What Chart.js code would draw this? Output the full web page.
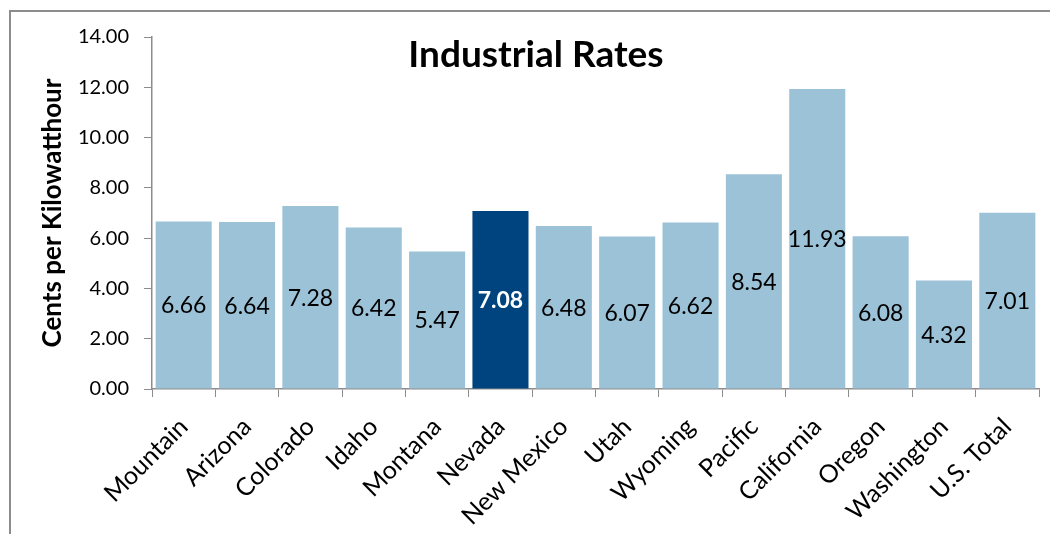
<!DOCTYPE html>
<html>
<head>
<meta charset="utf-8">
<script src="https://cdn.jsdelivr.net/npm/chart.js@4.4.1/dist/chart.umd.min.js"></script>
<style>
html,body{margin:0;padding:0;background:#fff;}
#wrap{position:relative;width:1050px;height:534px;}
</style>
</head>
<body>
<div id="wrap"><canvas id="c"></canvas></div>
<script>
const categories = ["Mountain","Arizona","Colorado","Idaho","Montana","Nevada","New Mexico","Utah","Wyoming","Pacific","California","Oregon","Washington","U.S. Total"];
const rates = [6.66, 6.64, 7.28, 6.42, 5.47, 7.08, 6.48, 6.07, 6.62, 8.54, 11.93, 6.08, 4.32, 7.01];
const highlight = "Nevada";
const titleText = "Industrial Rates";
const yAxisTitle = "Cents per Kilowatthour";

const FONT = "Lato";
const lightColor = "#9cc2d8";
const darkColor = "#00447f";
const axisColor = "#8c8c8c";

const barColors = categories.map(c => c === highlight ? darkColor : lightColor);

const frameAndLabels = {
  id: "frameAndLabels",
  beforeDraw(chart) {
    const ctx = chart.ctx;
    ctx.save();
    ctx.strokeStyle = axisColor;
    ctx.lineWidth = 2;
    ctx.beginPath();
    ctx.moveTo(10, chart.height + 2);
    ctx.lineTo(10, 11);
    ctx.lineTo(chart.width + 2, 11);
    ctx.stroke();
    ctx.restore();
  },
  afterDatasetsDraw(chart) {
    const ctx = chart.ctx;
    const meta = chart.getDatasetMeta(0);
    ctx.save();
    ctx.textAlign = "center";
    ctx.textBaseline = "middle";
    meta.data.forEach((bar, i) => {
      const p = bar.getProps(["x", "y", "base"], true);
      const isHi = categories[i] === highlight;
      ctx.fillStyle = isHi ? "#ffffff" : "#000000";
      ctx.font = (isHi ? "bold " : "") + "23px " + FONT;
      ctx.fillText(rates[i].toFixed(2), p.x, (p.y + p.base) / 2 + 1);
    });
    // title
    ctx.fillStyle = "#000";
    ctx.font = "bold 37px " + FONT;
    ctx.textBaseline = "alphabetic";
    ctx.fillText(titleText, 536, 67);
    ctx.restore();
  }
};

new Chart(document.getElementById("c"), {
  type: "bar",
  data: {
    labels: categories,
    datasets: [{
      data: rates,
      backgroundColor: barColors,
      borderWidth: 0,
      categoryPercentage: 1,
      barPercentage: 0.885
    }]
  },
  options: {
    responsive: true,
    maintainAspectRatio: false,
    animation: false,
    devicePixelRatio: 1,
    layout: { padding: { left: 0, top: 37, right: 11, bottom: 0 } },
    plugins: { legend: { display: false }, tooltip: { enabled: false }, title: { display: false } },
    scales: {
      x: {
        grid: { drawOnChartArea: false, drawTicks: true, tickLength: 8, color: axisColor, offset: true },
        border: { display: true, color: axisColor, width: 1.5 },
        ticks: { color: "#000", font: { family: FONT, size: 25 }, maxRotation: 45, minRotation: 45, padding: 15, autoSkip: false },
        afterFit(scale) { scale.height = 145; }
      },
      y: {
        min: 0, max: 14,
        grid: { drawOnChartArea: false, drawTicks: true, tickLength: 8, color: axisColor },
        border: { display: true, color: axisColor, width: 1.5 },
        ticks: { stepSize: 2, color: "#000", font: { family: FONT, size: 20 }, padding: 15,
          callback: v => Number(v).toFixed(2) },
        title: { display: true, text: yAxisTitle, color: "#000", font: { family: FONT, size: 26, weight: "bold" }, padding: { top: 37, bottom: 0 } },
        afterFit(scale) { scale.width = 152; }
      }
    }
  },
  plugins: [frameAndLabels]
});
</script>
</body>
</html>
